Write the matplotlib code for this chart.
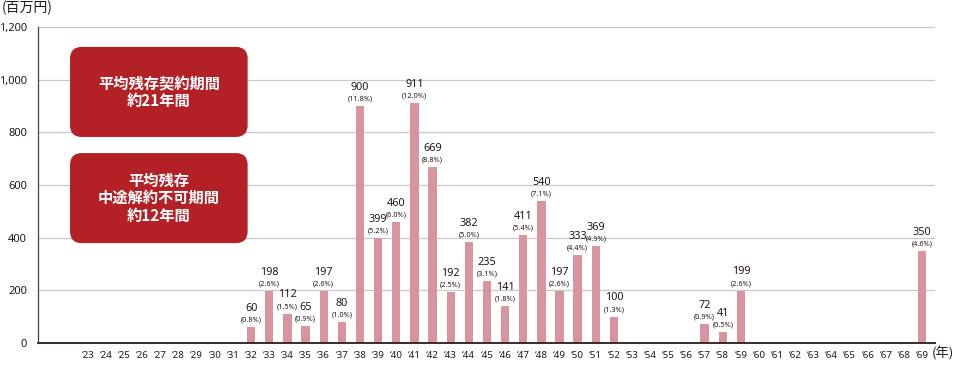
import matplotlib
matplotlib.use("Agg")
import matplotlib.pyplot as plt
from matplotlib.patches import FancyBboxPatch

plt.rcParams['font.family'] = ['Noto Sans', 'Noto Sans CJK JP', 'DejaVu Sans']

# data
years = list(range(2023, 2070))
bar_years = [2032, 2033, 2034, 2035, 2036, 2037, 2038, 2039, 2040, 2041, 2042,
             2043, 2044, 2045, 2046, 2047, 2048, 2049, 2050, 2051, 2052,
             2057, 2058, 2059, 2069]
amounts = [60, 198, 112, 65, 197, 80, 900, 399, 460, 911, 669,
           192, 382, 235, 141, 411, 540, 197, 333, 369, 100,
           72, 41, 199, 350]
shares = [0.8, 2.6, 1.5, 0.9, 2.6, 1.0, 11.8, 5.2, 6.0, 12.0, 8.8,
          2.5, 5.0, 3.1, 1.8, 5.4, 7.1, 2.6, 4.4, 4.9, 1.3,
          0.9, 0.5, 2.6, 4.6]
box_texts = ["平均残存契約期間\n約21年間", "平均残存\n中途解約不可期間\n約12年間"]
y_ticks = [0, 200, 400, 600, 800, 1000, 1200]

BAR = '#d8949f'
RED = '#b32126'
INK = '#231815'
CJK = ['Noto Sans CJK JP', 'DejaVu Sans']

fig = plt.figure(figsize=(9.55, 3.65), dpi=100)
ax = fig.add_axes([38 / 955, 1 - 343 / 365, 897 / 955, 316 / 365])

ax.bar(bar_years, amounts, width=0.46, color=BAR, zorder=3)

for yr, v, s in zip(bar_years, amounts, shares):
    ax.annotate(f"({s:.1f}%)", (yr, v), xytext=(0, 2.5), textcoords='offset points',
                ha='center', va='bottom', fontsize=5.3, color=INK, zorder=4)
    ax.annotate(f"{v}", (yr, v), xytext=(0, 9.5), textcoords='offset points',
                ha='center', va='bottom', fontsize=7.8, color=INK, zorder=4)

ax.set_xlim(2020.25, 2069.7)
ax.set_ylim(0, 1200)
ax.set_yticks(y_ticks)
ax.set_yticklabels([f"{t:,}" for t in y_ticks], fontsize=8, color=INK)
ax.set_xticks(years)
ax.set_xticklabels([f"\u2018{y % 100:02d}" for y in years], fontsize=7, color=INK)
ax.tick_params(length=0, pad=6)
ax.tick_params(axis='y', pad=8)

ax.grid(axis='y', color='#c9c9c9', lw=0.9, zorder=0)
ax.set_axisbelow(True)
for side in ('top', 'right'):
    ax.spines[side].set_visible(False)
ax.spines['left'].set_color('#444444')
ax.spines['left'].set_linewidth(0.9)
ax.spines['bottom'].set_color('#3a2a2a')
ax.spines['bottom'].set_linewidth(1.4)
ax.spines['bottom'].set_zorder(5)

# red boxes
aspect = 897 / 316
for (bx, by, bw, bh), txt in zip([(0.0357, 0.652, 0.198, 0.285),
                                  (0.0357, 0.316, 0.198, 0.285)], box_texts):
    box = FancyBboxPatch((bx, by), bw, bh, boxstyle="round,pad=0,rounding_size=0.013",
                         mutation_aspect=aspect, transform=ax.transAxes,
                         facecolor=RED, edgecolor='none', zorder=6)
    ax.add_patch(box)
    ax.text(bx + bw / 2, by + bh / 2, txt, transform=ax.transAxes, ha='center',
            va='center', color='white', fontsize=11, fontweight='bold',
            family=CJK, linespacing=1.12, zorder=7)

fig.text(0.002, 1 - 8 / 365, "(百万円)", family=CJK, fontsize=10, color=INK,
         ha='left', va='center')
fig.text(0.999, 1 - 354 / 365, "(年)", family=CJK, fontsize=9.5, color=INK,
         ha='right', va='center')

fig.savefig("out.png", dpi=100)
